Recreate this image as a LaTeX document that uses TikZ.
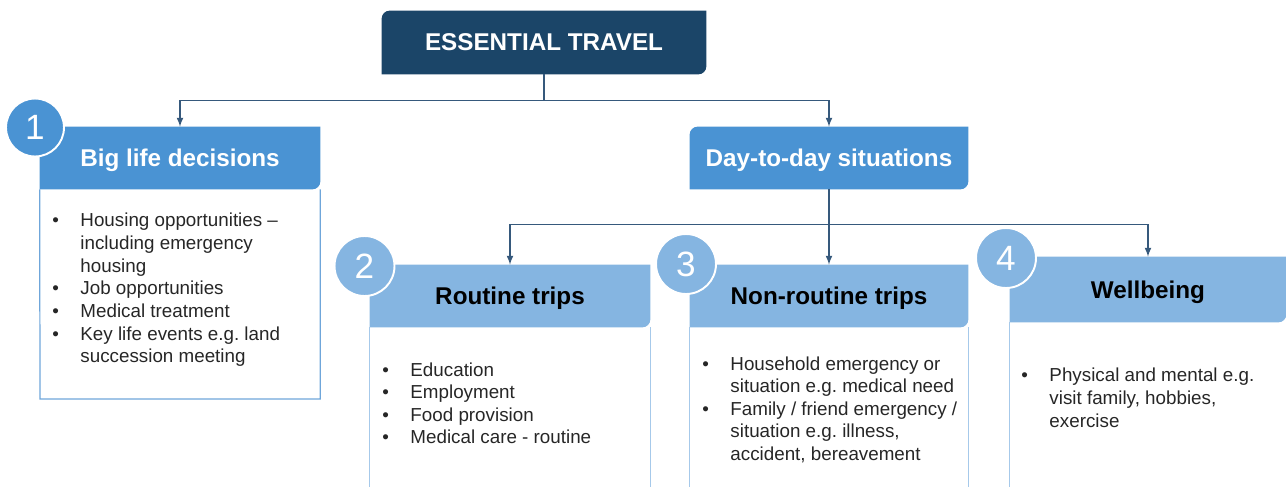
\documentclass[tikz,border=0pt]{standalone}
\usepackage{fontspec}
\setmainfont{Liberation Sans}
\usetikzlibrary{backgrounds}

\definecolor{navy}{HTML}{1B4568}
\definecolor{midblue}{HTML}{4A93D3}
\definecolor{paleblue}{HTML}{85B5E1}
\definecolor{linkblue}{HTML}{36597C}
\definecolor{rimblue}{HTML}{6FA6DA}
\definecolor{rimpale}{HTML}{A6C9EA}

% header plate: top left and bottom right corners rounded
\newcommand\headfill[2]{\fill[#2] (#1.south west) -- ([yshift=-4.5pt]#1.north west) arc[start angle=180,end angle=90,radius=4.5pt] -- (#1.north east) -- ([yshift=4.5pt]#1.south east) arc[start angle=0,end angle=-90,radius=4.5pt] -- cycle;}
\newcommand\bul{\textbullet}
\frenchspacing

\begin{document}
\begin{tikzpicture}[x=.02cm, y=-.02cm, >=latex,
  head/.style={minimum width=5.6cm, minimum height=1.24cm, inner sep=0pt, text depth=0pt, font=\fontsize{13.8}{16}\selectfont\bfseries},
  num/.style={circle, minimum size=1.2cm, inner sep=0pt, draw=white, line width=1.1pt, text=white, font=\fontsize{20}{24}\selectfont},
  items/.style={anchor=base west, inner sep=0pt, text=black!85, font=\fontsize{10.7}{12.9}\selectfont},
  link/.style={->, draw=linkblue, line width=.75pt},
  rim/.style={draw=rimpale, line width=.7pt}]
  \useasboundingbox (0,0) rectangle (1286,487);

  \node[head, text=white, minimum width=6.48cm, minimum height=1.26cm] (travel) at (544,42.5) {ESSENTIAL TRAVEL};
  \node[head, text=white] (big) at (180,158) {Big life decisions};
  \node[head, text=white, minimum width=5.56cm] (day) at (829,158) {Day-to-day situations};
  \node[head] (routine) at (510,296) {Routine trips};
  \node[head, minimum width=5.56cm] (nonroutine) at (829,296) {Non-routine trips};
  \node[head, minimum width=5.52cm, minimum height=1.3cm] (wellbeing) at (1148,289.5) {Wellbeing};

  \begin{scope}[on background layer]
    \headfill{travel}{navy}
    \headfill{big}{midblue}
    \headfill{day}{midblue}
    \headfill{routine}{paleblue}
    \headfill{nonroutine}{paleblue}
    \headfill{wellbeing}{paleblue}
  \end{scope}

  % open boxes below the headers
  \draw[rim, draw=rimblue] (big.south west) -- (40,399) -| (big.south east);
  \draw[rim] (routine.south west) -- ++(0,160) (routine.south east) -- ++(0,160);
  \draw[rim] (nonroutine.south west) -- ++(0,160) (nonroutine.south east) -- ++(0,160);
  \draw[rim] (wellbeing.south west) -- ++(0,165) (wellbeing.south east) -- ++(0,165);

  \node[num, fill=midblue, minimum size=1.16cm] (one) at (35,127.5) {1};
  \node[num, fill=paleblue] (two) at (364.5,266) {2};
  \node[num, fill=paleblue] (three) at (686,264) {3};
  \node[num, fill=paleblue] (four) at (1006,258) {4};

  \draw[link] (travel.south) -- ++(0,26) coordinate (split) -| (big.north);
  \draw[link] (split) -| (day.north);
  \draw[link] (day.south) -- ++(0,35) coordinate (fork) -| (routine.north);
  \draw[link] (fork) -- (nonroutine.north);
  \draw[link] (fork) -| (wellbeing.north);

  \node[items] (bigtext) at (52,226.7) {\begin{tabular}[t]{@{}p{16pt}@{}p{5cm}@{}}
    \bul & Housing opportunities --\newline including emergency\newline housing\\
    \bul & Job opportunities\\
    \bul & Medical treatment\\
    \bul & Key life events e.g. land\newline succession meeting
  \end{tabular}};
  \node[items] (routinetext) at (382,376) {\begin{tabular}[t]{@{}p{16pt}@{}p{5cm}@{}}
    \bul & Education\\
    \bul & Employment\\
    \bul & Food provision\\
    \bul & Medical care - routine
  \end{tabular}};
  \node[items] (nonroutinetext) at (702,370) {\begin{tabular}[t]{@{}p{16pt}@{}p{5cm}@{}}
    \bul & Household emergency or\newline situation e.g. medical need\\
    \bul & Family / friend emergency /\newline situation e.g. illness,\newline accident, bereavement
  \end{tabular}};
  \node[items] (wellbeingtext) at (1021,381.7) {\begin{tabular}[t]{@{}p{16pt}@{}p{5cm}@{}}
    \bul & Physical and mental e.g.\newline visit family, hobbies,\newline exercise
  \end{tabular}};
\end{tikzpicture}
\end{document}
